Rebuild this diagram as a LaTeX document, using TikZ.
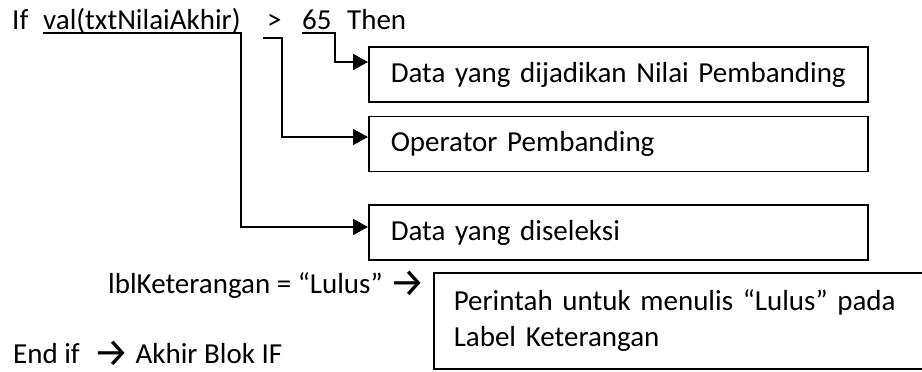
\documentclass[tikz,border=0pt]{standalone}
\usepackage{fontspec}
\setmainfont{Carlito}
\newfontfamily\arrowfont{Fira Sans}
\usetikzlibrary{arrows.meta}
\newcommand{\codefont}{\fontsize{29}{36}\selectfont}
\newcommand{\arw}{\raisebox{-3pt}[\height][0pt]{\arrowfont\fontsize{40}{40}\selectfont →}}

\begin{document}
\begin{tikzpicture}[x=1pt,y=-1pt,
		code/.style={font=\codefont,inner sep=0pt,anchor=base west},
		box/.style={draw,line width=1.5pt,font=\codefont,align=left,anchor=west,
			text width=455pt,inner xsep=22pt,inner ysep=4pt,minimum height=55pt},
		link/.style={line width=1.8pt,-{Triangle[length=15pt,width=16pt]}}]
	\useasboundingbox (0,0) rectangle (922,372);
	\clip (0,0) rectangle (922,372);
	
	% The If statement
	\node[code] (kIf) at (12,30) {If};
	\node[code] (kVal) at (43,30) {val(txtNilaiAkhir)};
	\node[code] (kOp) at (267,30) {>};
	\node[code] (kNum) at (302,30) {65};
	\node[code] (kThen) at (347,30) {Then};
	
	% Explanation boxes
	\node[box] (b1) at (368,74.5) {Data yang dijadikan Nilai Pembanding};
	\node[box] (b2) at (368,144) {Operator Pembanding};
	\node[box] (b3) at (368,232.5) {Data yang diseleksi};
	\node[box,text width=487pt,inner xsep=20pt,minimum height=96pt] (b4) at (433,321)
		{Perintah untuk menulis “Lulus” pada\\Label Keterangan};
	
	% Underlines running into the boxes
	\draw[link] ([yshift=-3pt]kNum.base west) -- ([xshift=3pt,yshift=-3pt]kNum.base east)
		|- ([yshift=12.5pt]b1.west);
	\draw[link] ([xshift=-4pt,yshift=-8pt]kOp.base west) -- ([yshift=-8pt]kOp.base east)
		|- ([yshift=7pt]b2.west);
	\draw[link] ([yshift=-3pt]kVal.base west) -- ([yshift=-3pt]kVal.base east)
		|- ([yshift=5.5pt]b3.west);
	
	% Body and end of the block
	\node[code] (kAssign) at (108,293) {lblKeterangan = “Lulus” \arw};
	\node[code] (kEnd) at (13,363) {End if \ \arw\ Akhir Blok IF};
\end{tikzpicture}
\end{document}
